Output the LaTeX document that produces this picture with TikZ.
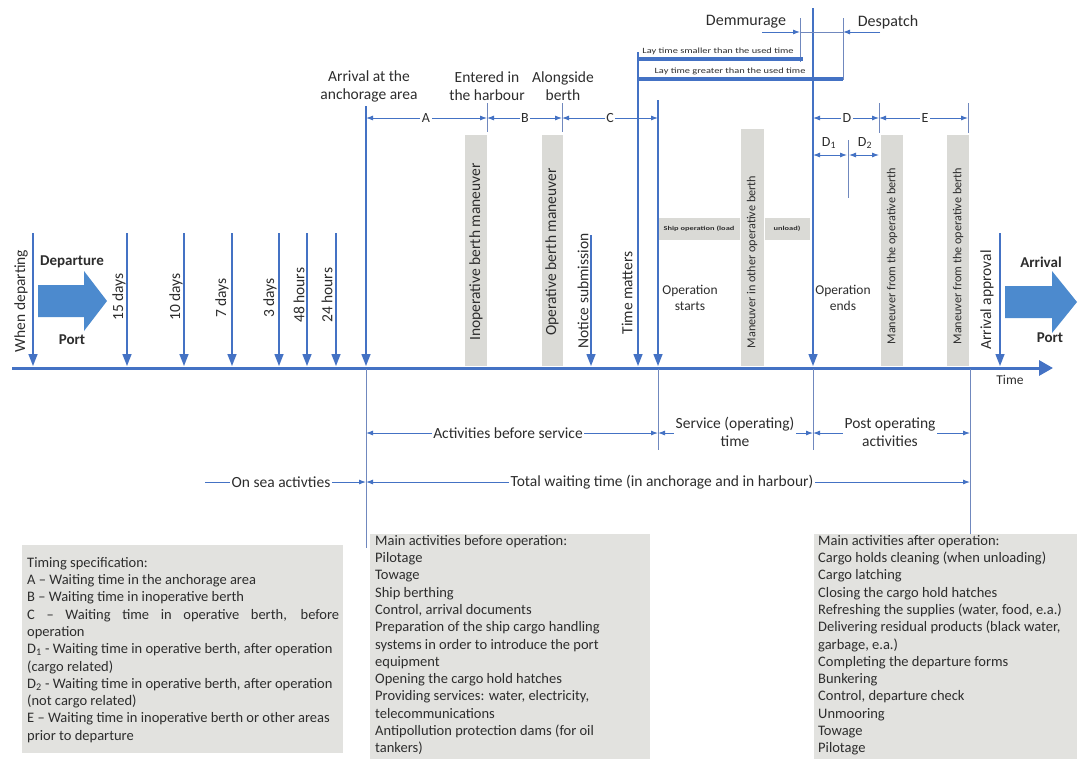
\documentclass[tikz,border=0pt]{standalone}
\usepackage{fontspec}
\setmainfont{Carlito}
\usetikzlibrary{arrows.meta}
\definecolor{lineblue}{RGB}{68,114,196}
\definecolor{guideblue}{RGB}{112,136,190}
\definecolor{blockblue}{RGB}{76,138,206}
\definecolor{barfill}{RGB}{218,218,214}
\definecolor{boxfill}{RGB}{226,226,223}
\definecolor{ink}{RGB}{45,45,45}
\newcommand{\fs}[2]{\fontsize{#1}{#2}\selectfont}

\begin{document}
\begin{tikzpicture}[x=1pt,y=-1pt,
  every node/.style={text=ink, font=\fs{15.5}{18}},
  eventarrow/.style={lineblue, line width=1.4pt, -{Triangle[length=12pt,width=9pt]}},
  dimline/.style={lineblue, line width=0.9pt, {Latex[length=7pt,width=5pt]}-{Latex[length=7pt,width=5pt]}},
  oneway/.style={lineblue, line width=0.9pt, -{Latex[length=7pt,width=5pt]}},
  guide/.style={guideblue, line width=0.9pt},
  laybar/.style={lineblue, line width=3.5pt},
  dimlabel/.style={fill=white, inner sep=1.5pt},
  uplabel/.style={rotate=90, inner sep=0pt},
  barlabel/.style={rotate=90, inner sep=0pt},
  graybar/.style={fill=barfill},
  infobox/.style={fill=boxfill},
  boxtext/.style={anchor=north west, align=left, inner sep=0pt, font=\fs{14.5}{17.3}},
  blocklabel/.style={font=\bfseries\fs{15}{18}},
  tinytext/.style={inner sep=0pt, font=\fs{8}{8}},
]

\clip (0,0) rectangle (1081,758);
\fill[white] (0,0) rectangle (1081,758);

% ---------- information boxes ----------
\fill[infobox] (22,545) rectangle (343,753);
\fill[infobox] (370,534) rectangle (650,760);
\fill[infobox] (814,534) rectangle (1077,760);

\node[boxtext] (spec) at (27,557) {Timing specification:\\
A – Waiting time in the anchorage area\\
B – Waiting time in inoperative berth\\
\makebox[312pt][s]{C – Waiting time in operative berth, before}\\
operation\\
D\textsubscript{1} - Waiting time in operative berth, after operation\\
(cargo related)\\
D\textsubscript{2} - Waiting time in operative berth, after operation\\
(not cargo related)\\
E – Waiting time in inoperative berth or other areas\\
prior to departure};

\node[boxtext] (before) at (375,535) {Main activities before operation:\\
Pilotage\\
Towage\\
Ship berthing\\
Control, arrival documents\\
Preparation of the ship cargo handling\\
systems in order to introduce the port\\
equipment\\
Opening the cargo hold hatches\\
Providing services: water, electricity,\\
telecommunications\\
Antipollution protection dams (for oil\\
tankers)};

\node[boxtext] (after) at (818,535) {Main activities after operation:\\
Cargo holds cleaning (when unloading)\\
Cargo latching\\
Closing the cargo hold hatches\\
Refreshing the supplies (water, food, e.a.)\\
Delivering residual products (black water,\\
garbage, e.a.)\\
Completing the departure forms\\
Bunkering\\
Control, departure check\\
Unmooring\\
Towage\\
Pilotage};

% ---------- grey maneuver bars ----------
\fill[graybar] (465,135) rectangle (487,366);
\fill[graybar] (542,135) rectangle (563,366);
\fill[graybar] (741,129) rectangle (764,366);
\fill[graybar] (881,135) rectangle (903,366);
\fill[graybar] (947,135) rectangle (969,366);
\fill[graybar] (658,218) rectangle (740,240);
\fill[graybar] (765,218) rectangle (810,240);

\node[barlabel] (inop) at (476,252) {Inoperative berth maneuver};
\node[barlabel] (oper) at (552,252) {Operative berth maneuver};
\node[barlabel, font=\fs{12.2}{14}] (other) at (752,262) {Maneuver in other operative berth};
\node[barlabel, font=\fs{12.2}{14}] (from1) at (892,256) {Maneuver from the operative berth};
\node[barlabel, font=\fs{12.2}{14}] (from2) at (958,256) {Maneuver from the operative berth};
\node[tinytext] (load) at (699,229) {\scalebox{1.4}[1]{\bfseries\fs{6}{6}Ship operation (load}};
\node[tinytext] (unload) at (787,229) {\scalebox{1.4}[1]{\bfseries\fs{6}{6}unload)}};

% ---------- block arrows ----------
\fill[blockblue] (38,285) -- (84,285) -- (84,271) -- (107,301) -- (84,331) -- (84,317) -- (38,317) -- cycle;
\fill[blockblue] (1005,286) -- (1052,286) -- (1052,271) -- (1077,302) -- (1052,333) -- (1052,318) -- (1005,318) -- cycle;
\node[blocklabel] (dep) at (72,262) {Departure};
\node[blocklabel] (depport) at (72,340) {Port};
\node[blocklabel] (arr) at (1041,262) {Arrival};
\node[blocklabel] (arrport) at (1050,338) {Port};

% ---------- time axis ----------
\draw[lineblue, line width=3pt, -{Triangle[length=14pt,width=15pt]}] (12,368) -- (1053,368);
\node[font=\fs{13.5}{16}] (time) at (1010,380) {Time};

% ---------- events on the axis ----------
\draw[eventarrow] (33,233) -- (33,366);
\draw[eventarrow] (127,233) -- (127,366);
\draw[eventarrow] (184,233) -- (184,366);
\draw[eventarrow] (232,233) -- (232,366);
\draw[eventarrow] (279,233) -- (279,366);
\draw[eventarrow] (307,233) -- (307,366);
\draw[eventarrow] (336,233) -- (336,366);
\draw[eventarrow] (366,106) -- (366,366);
\draw[eventarrow] (591,235) -- (591,366);
\draw[eventarrow] (638,52) -- (638,366);
\draw[eventarrow] (658,100) -- (658,366);
\draw[eventarrow] (813,8) -- (813,366);
\draw[eventarrow] (1000,233) -- (1000,366);

\node[uplabel] (whendep) at (21,301) {When departing};
\node[uplabel, anchor=west] (d15) at (119,321) {15 days};
\node[uplabel, anchor=west] (d10) at (176,321) {10 days};
\node[uplabel, anchor=west] (d7) at (222,318) {7 days};
\node[uplabel, anchor=west] (d3) at (270,318) {3 days};
\node[uplabel, anchor=west] (h48) at (299,323) {48 hours};
\node[uplabel, anchor=west] (h24) at (327,323) {24 hours};
\node[uplabel] (notice) at (583,291) {Notice submission};
\node[uplabel] (matters) at (627,293) {Time matters};
\node[uplabel] (approval) at (987,300) {Arrival approval};

\node[align=center, font=\fs{13.5}{16}] (opstart) at (690,298) {Operation\\starts};
\node[align=center, font=\fs{13.5}{16}] (opend) at (843,298) {Operation\\ends};

% ---------- guides below the axis ----------
\draw[guide] (366,369) -- (366,548);
\draw[guide] (658,369) -- (658,450);
\draw[guide] (813,369) -- (813,450);
\draw[guide] (970,369) -- (970,534);

% ---------- milestones above the axis ----------
\node[align=center] (anch) at (369,86) {Arrival at the\\anchorage area};
\node[align=center] (harb) at (487,86) {Entered in\\the harbour};
\node[align=center] (along) at (563,86) {Alongside\\berth};

\draw[guide] (487,103) -- (487,132);
\draw[guide] (562,103) -- (562,132);
\draw[guide] (879,103) -- (879,133);
\draw[guide] (968,103) -- (968,133);
\draw[guide] (848,140) -- (848,198);

\draw[dimline] (366,118) -- (487,118);
\draw[dimline] (487,118) -- (562,118);
\draw[dimline] (562,118) -- (658,118);
\draw[dimline] (813,118) -- (879,118);
\draw[dimline] (879,118) -- (968,118);
\draw[dimline] (813,155) -- (847,155);
\draw[dimline] (849,155) -- (879,155);

\node[dimlabel, font=\fs{14}{16}] (lA) at (426,118) {A};
\node[dimlabel, font=\fs{14}{16}] (lB) at (525,118) {B};
\node[dimlabel, font=\fs{14}{16}] (lC) at (610,118) {C};
\node[dimlabel, font=\fs{14}{16}] (lD) at (847,118) {D};
\node[dimlabel, font=\fs{14}{16}] (lE) at (925,118) {E};
\node[font=\fs{14}{16}] (lD1) at (829,143) {D\textsubscript{1}};
\node[font=\fs{14}{16}] (lD2) at (865,143) {D\textsubscript{2}};

% ---------- lay time ----------
\draw[guide] (800,18) -- (800,62);
\draw[guide] (843,18) -- (843,80);
\draw[laybar] (638,59) -- (803,59);
\draw[laybar] (638,79) -- (843,79);
\node[tinytext] (laysmall) at (718,51) {\scalebox{1.3}[1]{Lay time smaller than the used time}};
\node[tinytext] (laygreat) at (730,71) {\scalebox{1.3}[1]{Lay time greater than the used time}};

\node[font=\fs{16}{18}] (demm) at (746,22) {Demmurage};
\node[font=\fs{16}{18}] (desp) at (888,22) {Despatch};
\draw[oneway] (762,32) -- (800,32);
\draw[guide] (800,32) -- (843,32);
\draw[oneway] (880,32) -- (843,32);

% ---------- periods below the axis ----------
\draw[dimline] (366,433) -- (658,433);
\draw[dimline] (658,433) -- (813,433);
\draw[dimline] (813,433) -- (970,433);
\node[dimlabel] (actbefore) at (508,433) {Activities before service};
\node[dimlabel, align=center] (service) at (735,432) {Service (operating)\\time};
\node[dimlabel, align=center] (postop) at (890,432) {Post operating\\activities};

\draw[oneway] (205,482) -- (366,482);
\draw[dimline] (366,482) -- (970,482);
\node[dimlabel] (onsea) at (281,482) {On sea activties};
\node[dimlabel] (total) at (662,482) {Total waiting time (in anchorage and in harbour)};

\end{tikzpicture}
\end{document}
